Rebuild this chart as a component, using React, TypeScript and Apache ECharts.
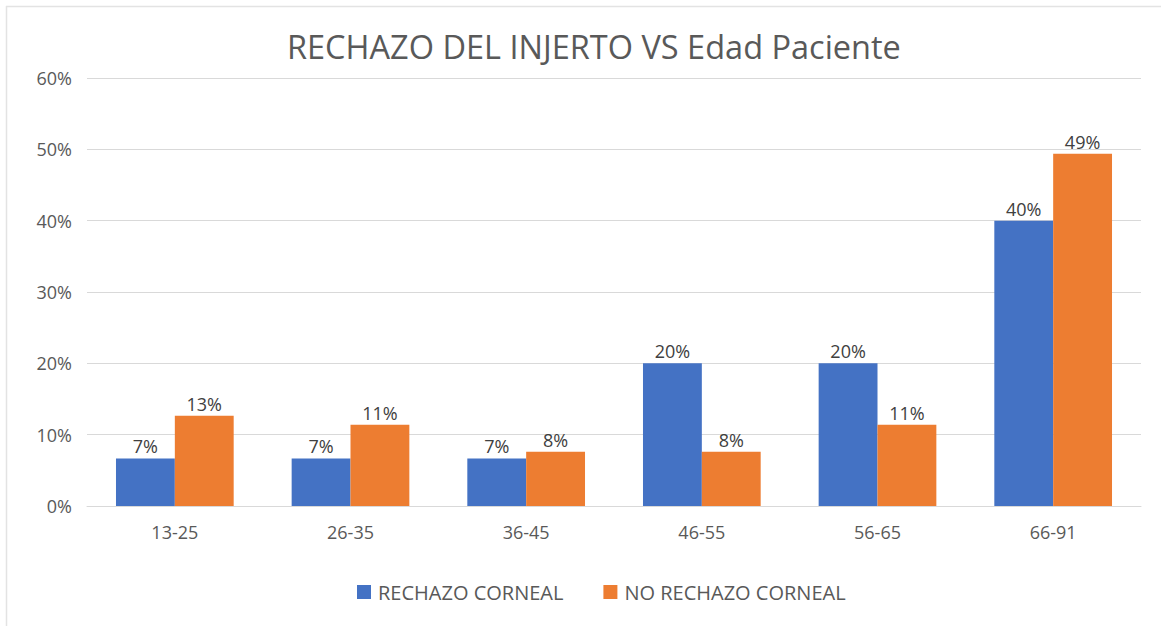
import React, { useEffect, useRef } from "react";
import * as echarts from "echarts";

const categories = ["13-25", "26-35", "36-45", "46-55", "56-65", "66-91"];
const rechazo = [6.67, 6.67, 6.67, 20, 20, 40];
const noRechazo = [12.66, 11.39, 7.59, 7.59, 11.39, 49.37];
const yTicks = [0, 10, 20, 30, 40, 50, 60];
const title = "RECHAZO DEL INJERTO VS Edad Paciente";
const seriesNames = ["RECHAZO CORNEAL", "NO RECHAZO CORNEAL"];

const FONT = "'Open Sans', 'Noto Sans', sans-serif";
const TXT = "#595959";

export default function App() {
  const ref = useRef<HTMLDivElement>(null);
  useEffect(() => {
    document.body.style.margin = "0";
    const chart = echarts.init(ref.current!, null, { renderer: "svg" });
    const label = {
      show: true,
      position: "top" as const,
      distance: 3,
      color: "#404040",
      fontSize: 18,
      fontFamily: FONT,
      formatter: (p: any) => Math.round(p.value) + "%",
    };
    chart.setOption({
      animation: false,
      backgroundColor: "#ffffff",
      title: {
        text: title,
        left: 282,
        top: 25,
        textStyle: { color: TXT, fontSize: 32.5, fontWeight: "normal", fontFamily: FONT },
      },
      legend: {
        top: 577,
        left: 352,
        itemWidth: 14,
        itemHeight: 14,
        itemGap: 40,
        icon: "rect",
        textStyle: { color: TXT, fontSize: 20, fontFamily: FONT, padding: [0, 0, 0, 2] },
        data: seriesNames,
      },
      grid: { left: 87, right: 20, top: 78, bottom: 120, containLabel: false },
      xAxis: {
        type: "category",
        data: categories,
        axisTick: { show: false },
        axisLine: { lineStyle: { color: "#d9d9d9" } },
        axisLabel: { color: TXT, fontSize: 18, fontFamily: FONT, margin: 17 },
      },
      yAxis: {
        type: "value",
        min: yTicks[0],
        max: yTicks[yTicks.length - 1],
        interval: 10,
        axisLine: { show: false },
        axisTick: { show: false },
        splitLine: { lineStyle: { color: "#d9d9d9" } },
        axisLabel: { color: TXT, fontSize: 18, fontFamily: FONT, margin: 15, formatter: "{value}%" },
      },
      series: [
        {
          name: seriesNames[0],
          type: "bar",
          data: rechazo,
          barGap: "0%",
          barCategoryGap: "33%",
          itemStyle: { color: "#4472C4" },
          label,
        },
        {
          name: seriesNames[1],
          type: "bar",
          data: noRechazo,
          itemStyle: { color: "#ED7D31" },
          label,
        },
      ],
      graphic: [
        { type: "line", shape: { x1: 6, y1: 6.5, x2: 1161, y2: 6.5 }, style: { stroke: "#e3e3e3", lineWidth: 1.5 } },
        { type: "line", shape: { x1: 6.5, y1: 6, x2: 6.5, y2: 626 }, style: { stroke: "#e3e3e3", lineWidth: 1.5 } },
      ],
    });
    return () => chart.dispose();
  }, []);
  return <div ref={ref} style={{ width: 1161, height: 626 }} />;
}
